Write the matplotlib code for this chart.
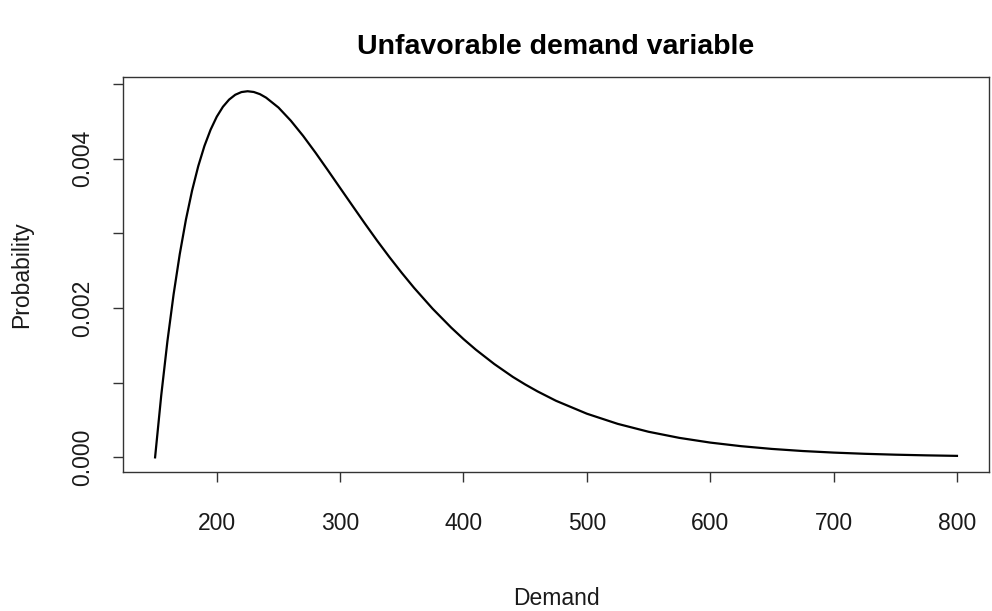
import matplotlib
matplotlib.use('Agg')
import matplotlib.pyplot as plt

# demand values and the density
demand = [150, 155, 160, 165, 170, 175, 180, 185, 190, 195, 200, 205, 210,
          215, 220, 225, 230, 235, 240, 250, 260, 270, 280, 290, 300, 310,
          320, 330, 340, 350, 360, 375, 390, 400, 410, 425, 440, 450, 460,
          475, 500, 525, 550, 575, 600, 625, 650, 675, 700, 725, 750, 775, 800]
probability = [0.0, 0.000832, 0.001556, 0.002183, 0.002723, 0.003185, 0.003575,
               0.003902, 0.004172, 0.004390, 0.004564, 0.004697, 0.004793,
               0.004858, 0.004894, 0.004905, 0.004895, 0.004866, 0.004819,
               0.004687, 0.004511, 0.004307, 0.004083, 0.003848, 0.003609,
               0.003371, 0.003134, 0.002903, 0.002682, 0.002471, 0.002270,
               0.001991, 0.001739, 0.001585, 0.001443, 0.001250, 0.001078,
               0.000977, 0.000884, 0.000758, 0.000585, 0.000449, 0.000343,
               0.000261, 0.000198, 0.000150, 0.000113, 0.000085, 0.000064,
               0.000048, 0.000036, 0.000027, 0.000020]

x_ticks = [200, 300, 400, 500, 600, 700, 800]
y_ticks = [0.000, 0.001, 0.002, 0.003, 0.004, 0.005]
y_labels = ['0.000', '', '0.002', '', '0.004', '']

plt.rcParams['font.family'] = ['Liberation Sans', 'DejaVu Sans']

fig = plt.figure(figsize=(9.92, 6.11), dpi=100)
ax = fig.add_axes([0.124, 0.2275, 0.873, 0.6465])

ax.plot(demand, probability, color='black', linewidth=1.6,
        solid_joinstyle='round')

ax.set_xlim(124, 826)
ax.set_ylim(-0.000196, 0.005096)
ax.set_xticks(x_ticks)
ax.set_xticklabels([str(t) for t in x_ticks])
ax.set_yticks(y_ticks)
ax.set_yticklabels(y_labels, rotation=90, va='center')

for s in ax.spines.values():
    s.set_color('#333333')
    s.set_linewidth(1.0)
ax.tick_params(axis='both', direction='out', length=7, width=1.0,
               color='#333333', labelsize=16.5, labelcolor='#1a1a1a')
ax.tick_params(axis='x', pad=22)
ax.tick_params(axis='y', pad=14)

ax.set_xlabel('Demand', fontsize=16.5, color='#1a1a1a')
ax.xaxis.set_label_coords(0.5, -0.319)
ax.xaxis.label.set_va('center')
ax.set_ylabel('Probability', fontsize=16.5, color='#1a1a1a')
ax.yaxis.set_label_coords(-0.1165, 0.5)
ax.yaxis.label.set_va('center')

ax.set_title('Unfavorable demand variable', fontsize=20.5, fontweight='bold',
             y=1.076, va='center', pad=0)

fig.savefig('out.png', dpi=100)
